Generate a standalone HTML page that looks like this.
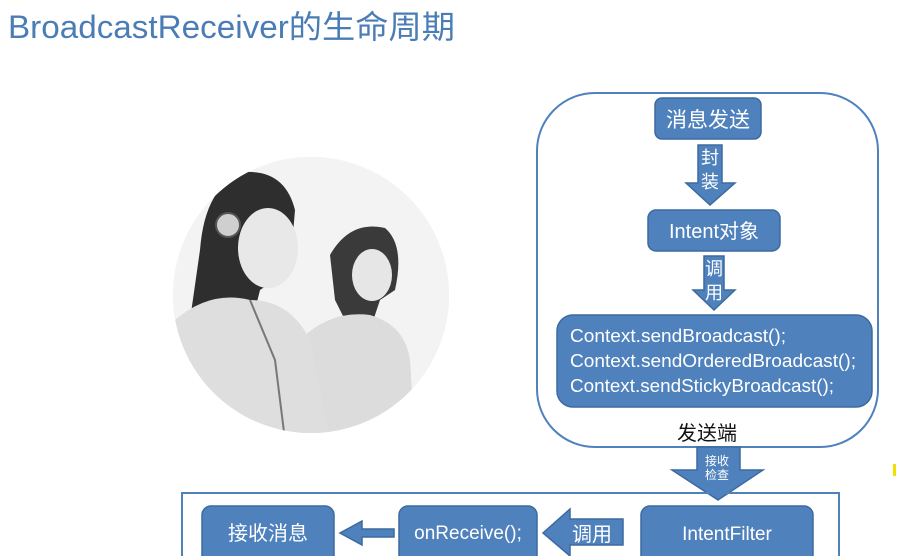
<!DOCTYPE html>
<html><head><meta charset="utf-8"><style>
html,body{margin:0;padding:0;background:#fff;}
svg{display:block;}
text{font-family:"Liberation Sans","Noto Sans CJK SC",sans-serif;}
</style></head><body>
<svg width="907" height="556" viewBox="0 0 907 556" xmlns="http://www.w3.org/2000/svg">
<rect width="907" height="556" fill="#fff"/>
<text x="8" y="38" font-size="32" fill="#4a7db5" textLength="447" lengthAdjust="spacingAndGlyphs">BroadcastReceiver的生命周期</text>

<defs><clipPath id="c"><circle cx="311" cy="295" r="138"/></clipPath></defs>
<circle cx="311" cy="295" r="138" fill="#ececec"/>
<g clip-path="url(#c)">
  <rect x="160" y="150" width="310" height="300" fill="#f3f3f3"/>
  <path d="M330 255 Q350 220 385 228 Q405 245 395 290 L380 300 L370 330 L345 320 L335 300 Z" fill="#3a3a3a"/>
  <ellipse cx="372" cy="275" rx="20" ry="26" fill="#e6e6e6"/>
  <path d="M300 340 Q330 310 370 315 Q405 325 410 360 L415 440 L300 440 Z" fill="#dcdcdc"/>
  <path d="M200 250 Q205 185 245 172 Q285 170 295 210 L290 270 L260 290 L250 330 L215 340 L190 320 Z" fill="#2e2e2e"/>
  <ellipse cx="268" cy="248" rx="30" ry="40" fill="#e8e8e8"/>
  <circle cx="228" cy="225" r="12" fill="#cfcfcf" stroke="#555" stroke-width="2"/>
  <path d="M175 320 Q210 290 250 300 Q290 300 310 340 L330 440 L170 440 Z" fill="#dedede"/>
  <path d="M250 300 L275 360 L285 440" stroke="#777" stroke-width="2" fill="none"/>
</g>

<rect x="537" y="93" width="341" height="354" rx="58" fill="none" stroke="#4f81bd" stroke-width="2"/>

<g fill="#4f81bd" stroke="#3c6aa0" stroke-width="1.5">
  <rect x="655" y="98" width="106" height="41" rx="7"/>
  <path d="M698 145 H722 V183 H735 L710 205 L686 183 H698 Z"/>
  <rect x="648" y="210" width="132" height="41" rx="8"/>
  <path d="M704 256 H724 V290 H735 L714 310 L693 290 H704 Z"/>
  <rect x="557" y="315" width="315" height="92" rx="16"/>
  <path d="M697 447 H740 V470 H763 L718 500 L672 470 H697 Z"/>
</g>
<g fill="#fff" font-size="19">
  <text x="708" y="127" text-anchor="middle" font-size="21">消息发送</text>
  <text x="710" y="164" text-anchor="middle" font-size="18">封</text>
  <text x="710" y="188" text-anchor="middle" font-size="18">装</text>
  <text x="714" y="238" text-anchor="middle" font-size="20">Intent对象</text>
  <text x="714" y="275" text-anchor="middle" font-size="18">调</text>
  <text x="714" y="299" text-anchor="middle" font-size="18">用</text>
  <text x="570" y="342" font-size="18" textLength="216" lengthAdjust="spacingAndGlyphs">Context.sendBroadcast();</text>
  <text x="570" y="367" font-size="18" textLength="286" lengthAdjust="spacingAndGlyphs">Context.sendOrderedBroadcast();</text>
  <text x="570" y="392" font-size="18" textLength="264" lengthAdjust="spacingAndGlyphs">Context.sendStickyBroadcast();</text>
  <text x="717" y="465" text-anchor="middle" font-size="12">接收</text>
  <text x="717" y="479" text-anchor="middle" font-size="12">检查</text>
</g>
<text x="707" y="440" text-anchor="middle" font-size="20" fill="#111">发送端</text>

<rect x="182" y="493" width="657" height="70" fill="none" stroke="#4f81bd" stroke-width="2"/>
<g fill="#4f81bd" stroke="#3c6aa0" stroke-width="1.5">
  <rect x="202" y="506" width="132" height="60" rx="9"/>
  <path d="M394 529 V537 H362 V545 L340 533 L362 521 V529 Z"/>
  <rect x="399" y="506" width="138" height="60" rx="9"/>
  <path d="M623 519 V545 H570 V556 L543 533 L570 509 V519 Z"/>
  <rect x="641" y="506" width="172" height="60" rx="9"/>
</g>
<g fill="#fff" font-size="19">
  <text x="268" y="540" text-anchor="middle" font-size="20">接收消息</text>
  <text x="468" y="539" text-anchor="middle">onReceive();</text>
  <text x="592" y="541" text-anchor="middle" font-size="20">调用</text>
  <text x="727" y="540" text-anchor="middle">IntentFilter</text>
</g>
<rect x="893" y="464" width="3" height="12" fill="#f0e000"/>
</svg>
</body></html>
